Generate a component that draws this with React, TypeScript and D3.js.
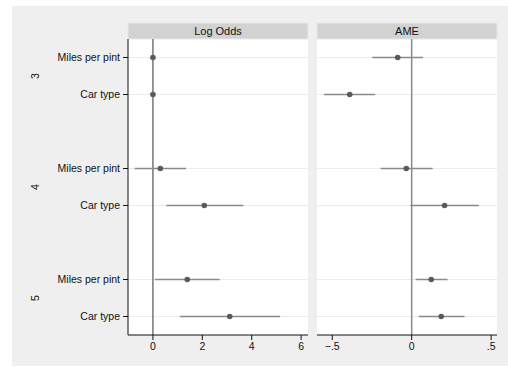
import React from "react";
import * as d3 from "d3";

// Coefficient plot: two panels (Log Odds, AME) with three outcome groups
const groups = ["3", "4", "5"];
const variables = ["Miles per pint", "Car type"];

// Estimates in row order: group 3 (mpg, car type), group 4, group 5
const logOdds = [0.0, 0.0, 0.3, 2.08, 1.39, 3.11];
const logOddsLo = [-0.03, -0.03, -0.74, 0.54, 0.08, 1.09];
const logOddsHi = [0.03, 0.03, 1.34, 3.66, 2.7, 5.15];

const ame = [-0.088, -0.39, -0.034, 0.207, 0.123, 0.186];
const ameLo = [-0.248, -0.552, -0.195, -0.009, 0.025, 0.044];
const ameHi = [0.071, -0.229, 0.132, 0.423, 0.226, 0.333];

const logTicks = [0, 2, 4, 6];
const ameTicks = [-0.5, 0, 0.5];
const ameTickLabels = ["\u2212.5", "0", ".5"];

const panelTitles = ["Log Odds", "AME"];

const W = 508;
const H = 367;
const top = 39;
const bottom = 335;
const headerH = 16;
const font = "'Liberation Sans', Arial, sans-serif";

export default function App() {
  // 8 slots: two rows per group plus a blank slot between groups
  const y = d3
    .scalePoint<number>()
    .domain(d3.range(8))
    .range([top, bottom])
    .padding(0.5);
  const rowY = (i: number) => y(Math.floor(i / 2) * 3 + (i % 2)) as number;

  const xL = d3.scaleLinear().domain([-1.01, 6.28]).range([128, 308]);
  const xR = d3.scaleLinear().domain([-0.596, 0.537]).range([317, 497]);

  const panels = [
    { x: xL, est: logOdds, lo: logOddsLo, hi: logOddsHi, ticks: logTicks, labels: logTicks.map(String), zero: "#333", zeroW: 1 },
    { x: xR, est: ame, lo: ameLo, hi: ameHi, ticks: ameTicks, labels: ameTickLabels, zero: "#8a8a8a", zeroW: 1.5 },
  ];
  const rows = d3.range(logOdds.length);

  return (
    <svg width={W} height={H} style={{ position: "absolute", left: 0, top: 0, fontFamily: font }}>
      <rect x={0} y={0} width={W} height={H} fill="#fff" />
      <rect x={12} y={6} width={W - 12} height={360} fill="#efefef" />

      {panels.map((p, pi) => {
        const [x0, x1] = p.x.range();
        return (
          <g key={pi}>
            <rect x={x0} y={top} width={x1 - x0} height={bottom - top} fill="#fff" />
            <rect x={x0} y={top - headerH} width={x1 - x0} height={headerH} fill="#d2d2d2" stroke="#e4e8ea" strokeWidth={1} />
            <text x={(x0 + x1) / 2} y={top - 4} textAnchor="middle" fontSize={11} fill="#111">
              {panelTitles[pi]}
            </text>
            {rows.map((i) => (
              <line key={"g" + i} x1={x0} x2={x1} y1={rowY(i)} y2={rowY(i)} stroke="#ececec" strokeWidth={1.2} />
            ))}
            <line x1={p.x(0)} x2={p.x(0)} y1={top} y2={bottom} stroke={p.zero} strokeWidth={p.zeroW} />
            {rows.map((i) => (
              <g key={"m" + i}>
                <line x1={p.x(p.lo[i])} x2={p.x(p.hi[i])} y1={rowY(i)} y2={rowY(i)} stroke="#8a8a8a" strokeWidth={1.5} />
                <circle cx={p.x(p.est[i])} cy={rowY(i)} r={2.8} fill="#5a5a5a" />
              </g>
            ))}
            <line x1={x0} x2={x1} y1={bottom} y2={bottom} stroke="#111" strokeWidth={1} />
            {p.ticks.map((t, ti) => (
              <g key={"t" + ti}>
                <line x1={p.x(t)} x2={p.x(t)} y1={bottom} y2={bottom + 5} stroke="#111" strokeWidth={1} />
                <text x={p.x(t)} y={bottom + 15} textAnchor="middle" fontSize={10.5} fill="#111">
                  {p.labels[ti]}
                </text>
              </g>
            ))}
          </g>
        );
      })}

      {/* y axis of the left panel */}
      <line x1={128} x2={128} y1={top} y2={bottom} stroke="#111" strokeWidth={1} />
      {rows.map((i) => (
        <g key={"yl" + i}>
          <line x1={123} x2={128} y1={rowY(i)} y2={rowY(i)} stroke="#111" strokeWidth={1} />
          <text x={120} y={rowY(i) + 3.8} textAnchor="end" fontSize={10.5} fill="#111">
            {variables[i % 2]}
          </text>
        </g>
      ))}
      {groups.map((g, gi) => {
        const cy = (rowY(gi * 2) + rowY(gi * 2 + 1)) / 2;
        return (
          <text key={g} transform={`translate(39,${cy}) rotate(-90)`} textAnchor="middle" fontSize={10.5} fill="#111">
            {g}
          </text>
        );
      })}
    </svg>
  );
}
